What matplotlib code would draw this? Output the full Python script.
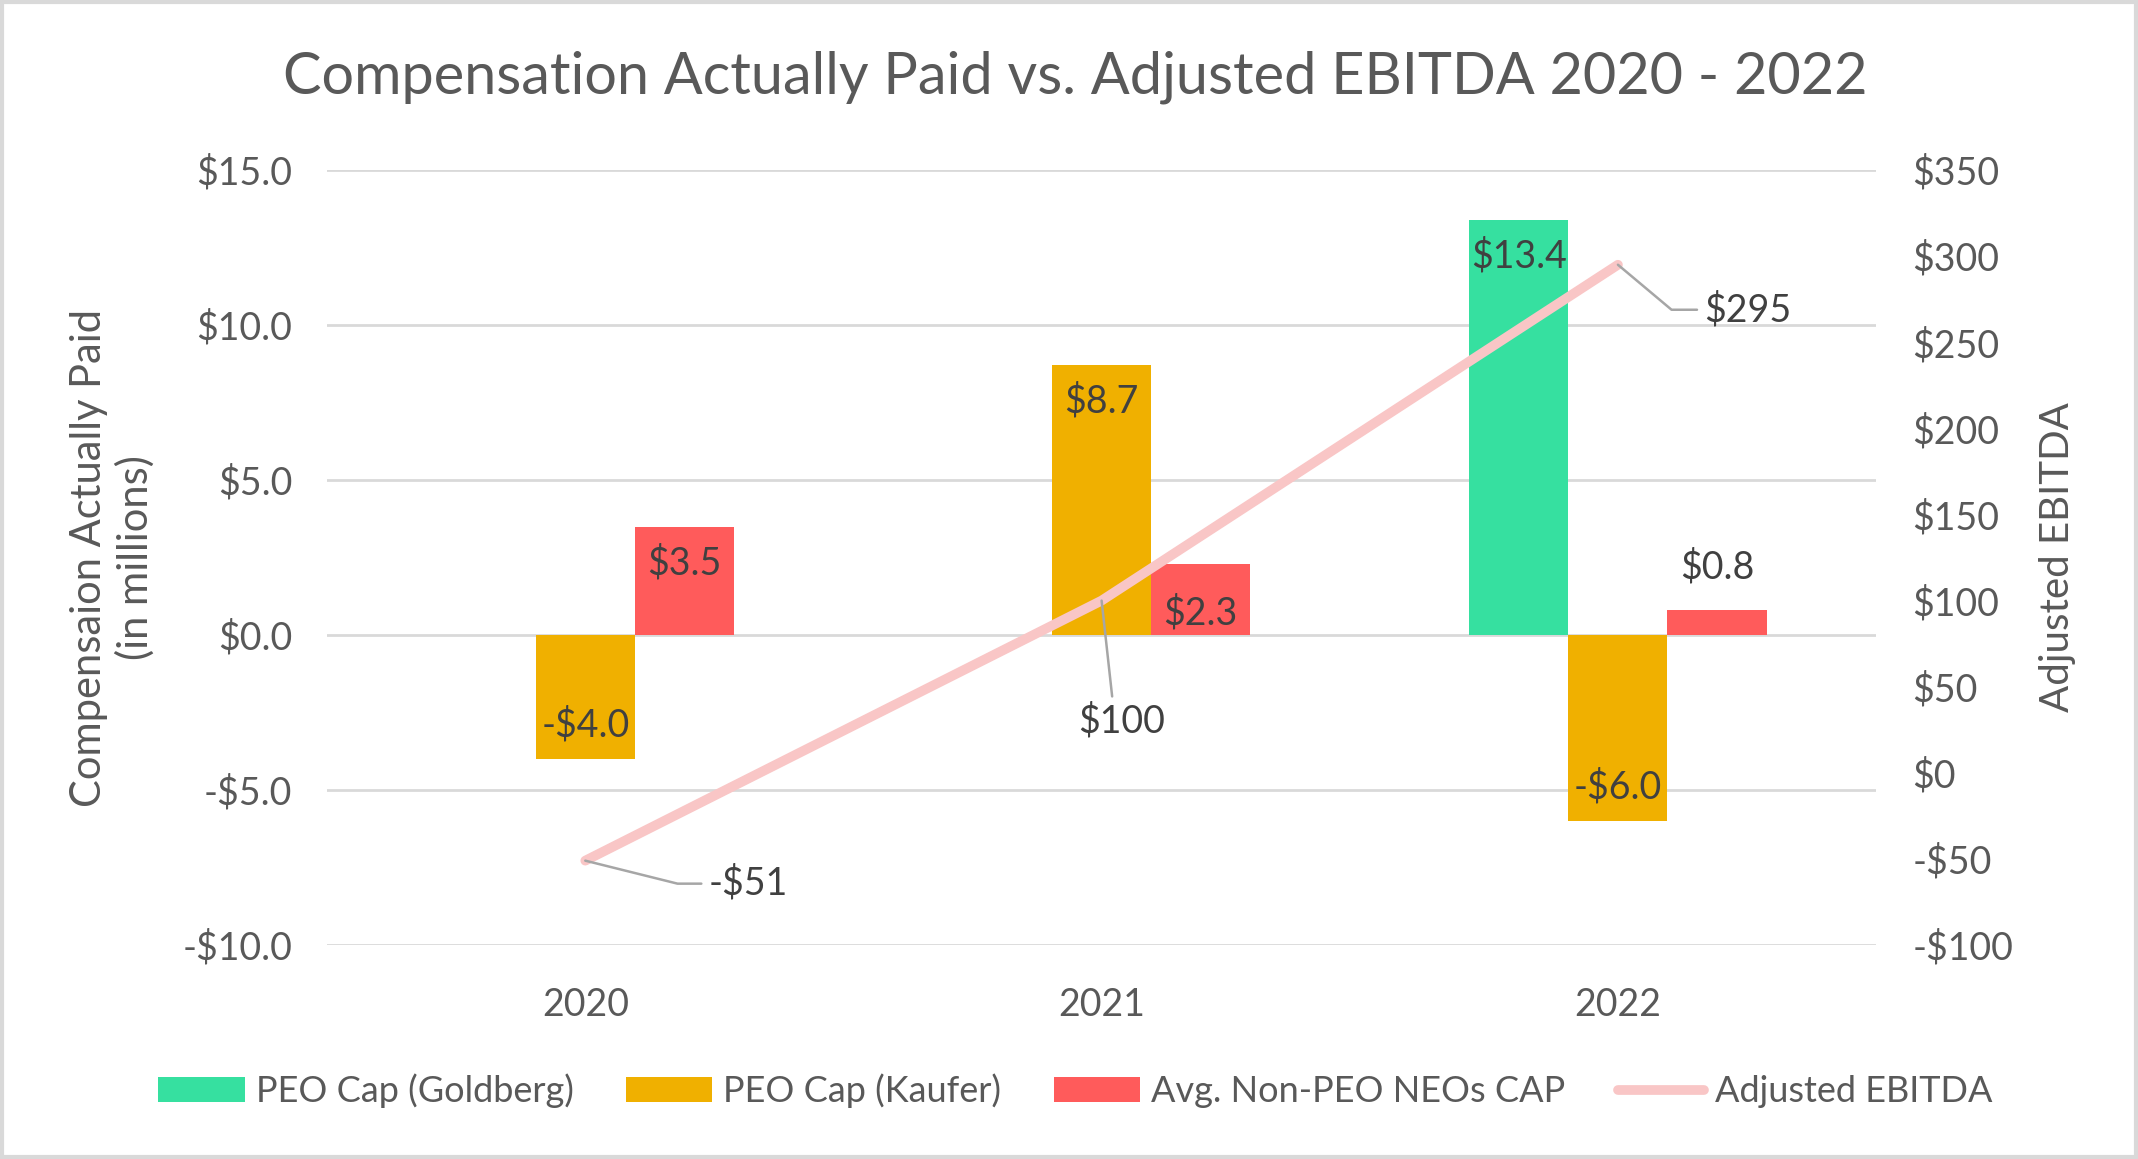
import matplotlib
matplotlib.use("Agg")
import matplotlib.pyplot as plt
import numpy as np
from matplotlib.patches import Rectangle

plt.rcParams['font.family'] = ['Lato', 'DejaVu Sans']

# data
years = ['2020', '2021', '2022']
goldberg = [np.nan, np.nan, 13.4]
kaufer = [-4.0, 8.7, -6.0]
non_peo = [3.5, 2.3, 0.8]
ebitda = [-51, 100, 295]

col_green = '#36E0A0'
col_gold = '#F0B000'
col_red = '#FF5B5B'
col_pink = '#F9C6C6'
txt = '#595959'
grid = '#D9D9D9'

fig = plt.figure(figsize=(21.38, 11.59), dpi=100)
ax = fig.add_axes([0.153, 0.1846, 0.7245, 0.6687])
ax2 = ax.twinx()

x = np.arange(len(years))
w = 0.192
series = [(goldberg, col_green, 'PEO Cap (Goldberg)', -w),
          (kaufer, col_gold, 'PEO Cap (Kaufer)', 0),
          (non_peo, col_red, 'Avg. Non-PEO NEOs CAP', w)]

for vals, c, lab, off in series:
    ax.bar(x + off, vals, width=w, color=c, label=lab, zorder=2)

ax.set_xlim(-0.5, 2.5)
ax.set_ylim(-10, 15)
ax.set_yticks(np.arange(-10, 15.1, 5))
ax.set_yticklabels(['-$%.1f' % abs(v) if v < 0 else '$%.1f' % v for v in np.arange(-10, 15.1, 5)])
ax.set_xticks(x)
ax.set_xticklabels(years)
ax.yaxis.grid(True, color=grid, lw=2, zorder=0)
ax.set_axisbelow(True)
for s in ax.spines.values():
    s.set_visible(False)
for s in ax2.spines.values():
    s.set_visible(False)
ax.tick_params(axis='y', length=0, pad=25, labelsize=27, labelcolor=txt)
ax.tick_params(axis='x', length=0, pad=30, labelsize=27, labelcolor=txt)

# bar labels
def blabel(xx, v, mode):
    s = ('-$%.1f' % abs(v)) if v < 0 else ('$%.1f' % v)
    if mode == 'end':
        dy = -18 if v > 0 else 16
        va = 'top' if v > 0 else 'bottom'
    elif mode == 'base':
        dy = 4
        va = 'bottom'
        v = 0
    else:
        dy = 25
        va = 'bottom'
    ax.annotate(s, (xx, v), xytext=(0, dy), textcoords='offset pixels',
                ha='center', va=va, fontsize=27, color='#404040', zorder=4)

for i, v in enumerate(goldberg):
    if not np.isnan(v):
        blabel(x[i] - w, v, 'end')
for i, v in enumerate(kaufer):
    blabel(x[i], v, 'end')
red_modes = ['end', 'base', 'out']
for i, v in enumerate(non_peo):
    blabel(x[i] + w, v, red_modes[i])

# line on secondary axis
ax2.plot(x, ebitda, color=col_pink, lw=7, solid_capstyle='round', zorder=3,
         label='Adjusted EBITDA')
ax2.set_ylim(-100, 350)
ax2.set_yticks(np.arange(-100, 351, 50))
ax2.set_yticklabels(['-$%d' % abs(v) if v < 0 else '$%d' % v for v in np.arange(-100, 351, 50)])
ax2.tick_params(axis='y', length=0, pad=26, labelsize=27, labelcolor=txt)

lead = dict(arrowstyle='-', color='#A6A6A6', lw=1.8, shrinkA=3, shrinkB=0)
ax2.annotate('-$%d' % abs(ebitda[0]), (x[0], ebitda[0]), xytext=(123, -23),
             textcoords='offset pixels', ha='left', va='center', fontsize=27, color='#404040',
             arrowprops=dict(lead, relpos=(0, 0.5), connectionstyle='angle,angleA=0,angleB=-14,rad=0'))
ax2.annotate('$%d' % ebitda[1], (x[1], ebitda[1]), xytext=(20, -121),
             textcoords='offset pixels', ha='center', va='center', fontsize=27, color='#404040',
             arrowprops=dict(lead, relpos=(0.4, 1), connectionstyle='arc3,rad=0'))
ax2.annotate('$%d' % ebitda[2], (x[2], ebitda[2]), xytext=(86, -45),
             textcoords='offset pixels', ha='left', va='center', fontsize=27, color='#404040',
             arrowprops=dict(lead, relpos=(0, 0.5), connectionstyle='angle,angleA=0,angleB=-40,rad=0'))

ax.set_ylabel('Compensaion Actually Paid\n(in millions)', fontsize=30, color=txt, linespacing=1.25)
ax.yaxis.set_label_coords(-0.111, 0.5)
ax2.set_ylabel('Adjusted EBITDA', fontsize=29, color=txt, rotation=90)
ax2.yaxis.set_label_coords(1.105, 0.5)

fig.text(0.503, 0.933, 'Compensation Actually Paid vs. Adjusted EBITDA 2020 - 2022',
         ha='center', va='center', fontsize=41.5, color=txt)

h1, l1 = ax.get_legend_handles_labels()
h2, l2 = ax2.get_legend_handles_labels()
fig.legend(h1 + h2, l1 + l2, loc='center', bbox_to_anchor=(0.503, 0.0587), ncol=4,
           frameon=False, fontsize=26, labelcolor=txt, handlelength=2.4,
           handletextpad=0.3, columnspacing=1.45, handleheight=0.7)

fig.patches.append(Rectangle((0.001, 0.002), 0.998, 0.996, transform=fig.transFigure,
                             fill=False, edgecolor='#D9D9D9', lw=3))

fig.savefig('out.png', dpi=100)
